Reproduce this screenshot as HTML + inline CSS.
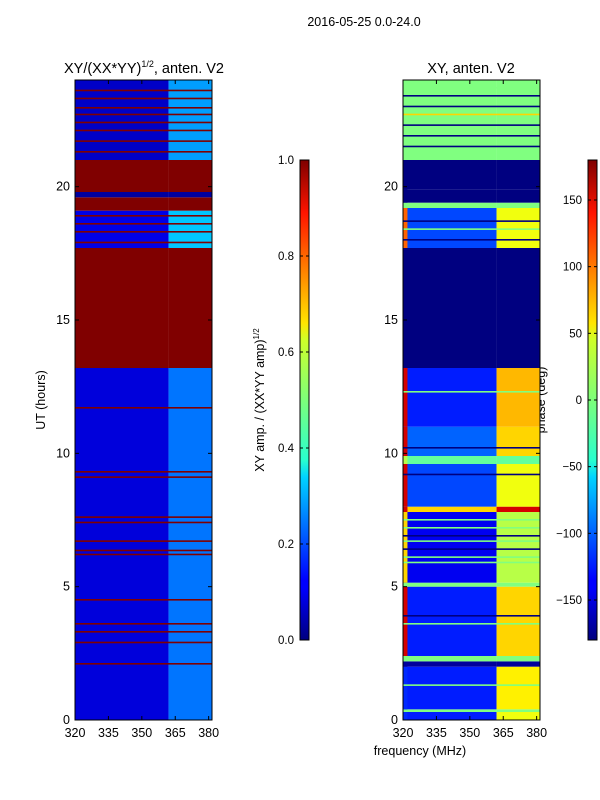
<!DOCTYPE html>
<html><head><meta charset="utf-8">
<style>
html,body{margin:0;padding:0;background:#fff;}
svg{display:block;font-family:"Liberation Sans","DejaVu Sans",sans-serif;}
</style></head>
<body>
<svg id="fig" width="600" height="800" viewBox="0 0 600 800" xmlns="http://www.w3.org/2000/svg">
<defs>
<linearGradient id="jetV" x1="0" y1="1" x2="0" y2="0">
<stop offset="0" stop-color="#00007f"/><stop offset="0.11" stop-color="#0000ff"/><stop offset="0.125" stop-color="#0000ff"/>
<stop offset="0.34" stop-color="#00d4ff"/><stop offset="0.375" stop-color="#29ffce"/><stop offset="0.5" stop-color="#7dff7a"/>
<stop offset="0.625" stop-color="#ceff29"/><stop offset="0.66" stop-color="#ffe500"/><stop offset="0.89" stop-color="#ff1400"/><stop offset="1" stop-color="#7f0000"/>
</linearGradient>
</defs>
<text x="364" y="26" font-size="12.5" text-anchor="middle">2016-05-25 0.0-24.0</text>
<text x="144" y="73" font-size="14.5" text-anchor="middle">XY/(XX*YY)<tspan font-size="9" dy="-6">1/2</tspan><tspan dy="6">, anten. V2</tspan></text>
<text x="471" y="73" font-size="14.5" text-anchor="middle">XY, anten. V2</text>
<text x="45" y="400" font-size="12.5" text-anchor="middle" transform="rotate(-90 45 400)">UT (hours)</text>
<text x="420" y="755" font-size="12.5" text-anchor="middle">frequency (MHz)</text>
<text x="264" y="400" font-size="12.5" text-anchor="middle" transform="rotate(-90 264 400)">XY amp. / (XX*YY amp)<tspan font-size="8" dy="-5">1/2</tspan></text>
<text x="545" y="400" font-size="12.5" text-anchor="middle" transform="rotate(-90 545 400)">phase (deg)</text>
<g id="left"></g><g id="right"></g><g id="cbs"></g>
</svg>
<script>
// ---- data ----
const ampBandStart = [0, 13.2, 17.7, 19.1, 19.6, 19.8, 21.0];
const ampBandEnd   = [13.2, 17.7, 19.1, 19.6, 19.8, 21.0, 24];
const ampBg        = [0.09, 1.0, 0.1, 1.0, 0.03, 1.0, 0.07];
const ampSig       = [0.24, 1.0, 0.32, 1.0, 0.03, 1.0, 0.28];
const ampLines     = [2.1, 2.9, 3.3, 3.6, 4.5, 6.2, 6.35, 6.7, 7.4, 7.6, 9.1, 9.3, 11.7, 17.9, 18.3, 18.6, 18.9, 21.3, 21.7, 22.1, 22.4, 22.7, 22.95, 23.3, 23.6];
const ampLineVal   = [1,1,1,1,1,1,1,1,1,1,1,1,1,1,1,1,1,1,1,1,1,1,1,1,1];

const phBandStart = [0, 0.3, 0.4, 2.0, 2.2, 2.4, 5.0, 5.15, 7.8, 8.0, 9.6, 9.9, 11.0, 13.2, 17.7, 19.2, 19.4, 19.9, 21.0];
const phBandEnd   = [0.3, 0.4, 2.0, 2.2, 2.4, 5.0, 5.15, 7.8, 8.0, 9.6, 9.9, 11.0, 13.2, 17.7, 19.2, 19.4, 19.9, 21.0, 24];
const phBg        = [-125, 0, -125, -170, 0, -125, 0, -140, 60, -110, -10, -100, -125, -180, -110, 0, -180, -180, 0];
const phSig       = [40, 0, 50, -170, 0, 60, 0, 20, 150, 40, -10, 60, 70, -180, 40, 0, -180, -180, 0];
const phEdge      = [-120, 0, -120, -170, 0, 150, 0, 60, 150, 150, 20, 150, 150, -180, 100, 0, -180, -180, 0];
const phLines     = [1.3, 3.6, 3.9, 5.9, 6.1, 6.4, 6.7, 6.9, 7.2, 7.5, 9.2, 10.2, 12.3, 18.0, 18.4, 18.7, 21.5, 21.9, 22.3, 22.7, 23.0, 23.4, 23.7];
const phLineVal   = [0, 0, -180, 0, 0, -180, 0, -180, 0, 0, -180, -180, 0, -180, 0, -180, -180, -180, -180, 60, -180, -180, 0];

const xTicks = [320, 335, 350, 365, 380];
const yTicks = [0, 5, 10, 15, 20];
const ampCbTicks = [0.0, 0.2, 0.4, 0.6, 0.8, 1.0];
const phCbTicks = [-150, -100, -50, 0, 50, 100, 150];

// ---- helpers ----
function jet(v){
  function c(x){return Math.max(0,Math.min(1,x));}
  const r=c(1.5-Math.abs(4*v-3)), g=c(1.5-Math.abs(4*v-2)), b=c(1.5-Math.abs(4*v-1));
  return 'rgb('+Math.round(r*255)+','+Math.round(g*255)+','+Math.round(b*255)+')';
}
const NS='http://www.w3.org/2000/svg';
function mk(parent,tag,attrs){const e=document.createElementNS(NS,tag);for(const k in attrs)e.setAttribute(k,attrs[k]);parent.appendChild(e);return e;}
const yT=h=>720-h*(640/24);
const F0=320,F1=381.5,SIGF=362,EDGEF=322;

function panel(g,x0,starts,ends,bg,sig,edge,lines,lineVal,norm,name){
  const xF=f=>x0+(f-F0)*(137/(F1-F0));
  for(let i=0;i<starts.length;i++){
    const y1=yT(ends[i]),h=yT(starts[i])-y1;
    let r=mk(g,'rect',{x:xF(F0),y:y1,width:xF(SIGF)-xF(F0),height:h,fill:jet(norm(bg[i]))});
    
    
    r=mk(g,'rect',{x:xF(SIGF),y:y1,width:xF(F1)-xF(SIGF),height:h,fill:jet(norm(sig[i]))});
    
    
    if(edge){
      r=mk(g,'rect',{x:xF(F0),y:y1,width:xF(EDGEF)-xF(F0),height:h,fill:jet(norm(edge[i]))});
      
      
    }
  }
  for(let i=0;i<lines.length;i++){
    const r=mk(g,'rect',{x:xF(F0),y:yT(lines[i])-1,width:137,height:1.6,fill:jet(norm(lineVal[i]))});
    
    
  }
  const fr=mk(g,'rect',{x:x0,y:80,width:137,height:640,fill:'none',stroke:'#000','stroke-width':1});
  
  
  xTicks.forEach(t=>{
    const x=xF(t);
    mk(g,'line',{x1:x,x2:x,y1:720,y2:716,stroke:'#000'});
    mk(g,'line',{x1:x,x2:x,y1:80,y2:84,stroke:'#000'});
    const tx=mk(g,'text',{x:x,y:737,'font-size':12.5,'text-anchor':'middle'});tx.textContent=t;
    
    
  });
  yTicks.forEach(t=>{
    const y=yT(t);
    mk(g,'line',{x1:x0,x2:x0+4,y1:y,y2:y,stroke:'#000'});
    mk(g,'line',{x1:x0+137,x2:x0+133,y1:y,y2:y,stroke:'#000'});
    const tx=mk(g,'text',{x:x0-5,y:y+4,'font-size':12.5,'text-anchor':'end'});tx.textContent=t;
    
    
  });
}
panel(document.getElementById('left'),75,ampBandStart,ampBandEnd,ampBg,ampSig,null,ampLines,ampLineVal,v=>v,'amp');
panel(document.getElementById('right'),403,phBandStart,phBandEnd,phBg,phSig,phEdge,phLines,phLineVal,v=>(v+180)/360,'phase');

const cg=document.getElementById('cbs');
function cbar(x,ticks,norm,name){
  const r=mk(cg,'rect',{x:x,y:160,width:9,height:480,fill:'url(#jetV)',stroke:'#000','stroke-width':1});
  
  
  ticks.forEach(t=>{
    const y=640-norm(t)*480;
    mk(cg,'line',{x1:x,x2:x+3,y1:y,y2:y,stroke:'#000'});
    mk(cg,'line',{x1:x+9,x2:x+6,y1:y,y2:y,stroke:'#000'});
    const tx=mk(cg,'text',{x:x-6,y:y+4,'font-size':11.5,'text-anchor':'end'});
    tx.textContent=(name==='amp-colorbar')?t.toFixed(1):(t<0?'\u2212'+(-t):String(t));
    
    
  });
}
cbar(300,ampCbTicks,v=>v,'amp-colorbar');
cbar(588,phCbTicks,v=>(v+180)/360,'phase-colorbar');
</script>
</body></html>
